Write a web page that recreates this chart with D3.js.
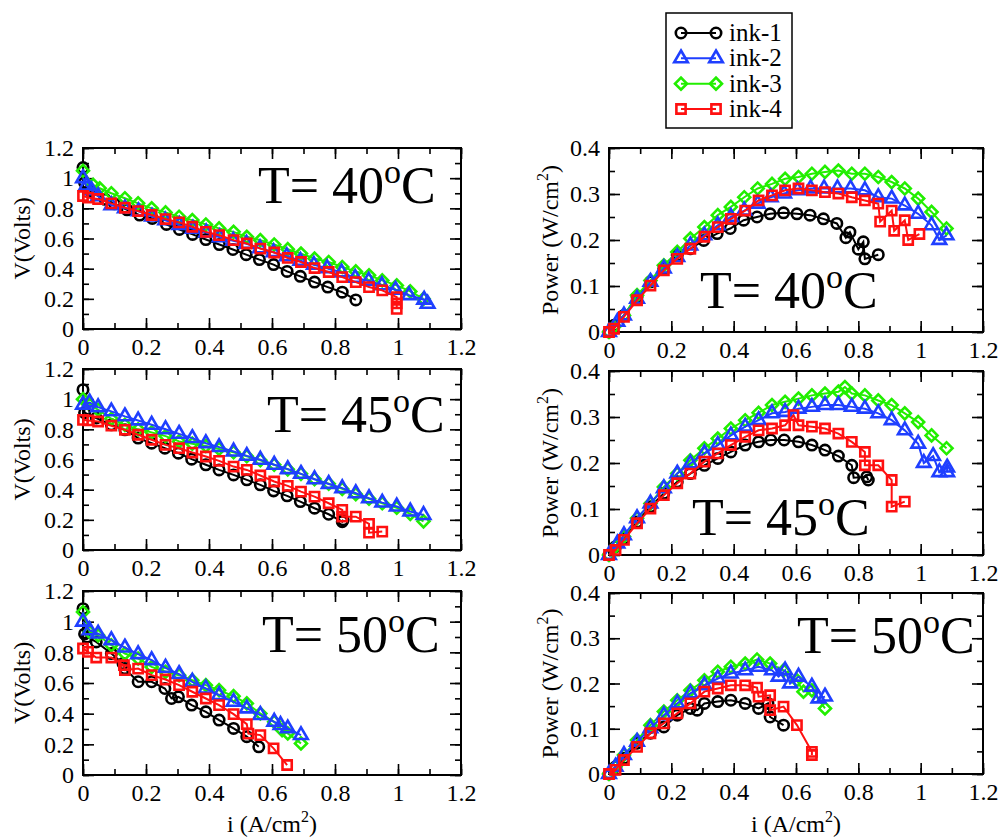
<!DOCTYPE html>
<html>
<head>
<meta charset="utf-8">
<script src="https://cdn.jsdelivr.net/npm/d3@7"></script>
<style>
  body { margin: 0; background: #fff; }
  svg, svg text { font-family: "Liberation Serif", "DejaVu Serif", serif; }
</style>
</head>
<body>
<svg id="chart"></svg>
<script>
// ---- data ----
var inks = ["ink-1", "ink-2", "ink-3", "ink-4"];
var inkColors = ["#000000", "#1f3fff", "#22ee00", "#ff1010"];
var temps = [40, 45, 50];
var xTicks = [0, 0.2, 0.4, 0.6, 0.8, 1, 1.2];
var vTicks = [0, 0.2, 0.4, 0.6, 0.8, 1, 1.2];
var pTicks = [0, 0.1, 0.2, 0.3, 0.4];

// polarisation curves, T = 40
var iV40_1 = [0, 0.005, 0.02, 0.04, 0.07, 0.1, 0.14, 0.18, 0.22, 0.265, 0.306, 0.348, 0.39, 0.433, 0.476, 0.518, 0.56, 0.605, 0.648, 0.69, 0.735, 0.777, 0.823, 0.866];
var v40_1 = [1.07, 0.97, 0.92, 0.89, 0.86, 0.83, 0.79, 0.755, 0.733, 0.693, 0.66, 0.627, 0.593, 0.56, 0.527, 0.493, 0.46, 0.427, 0.382, 0.349, 0.311, 0.278, 0.244, 0.193];
var iV40_2 = [0, 0.01, 0.027, 0.048, 0.09, 0.133, 0.176, 0.219, 0.261, 0.306, 0.349, 0.391, 0.434, 0.477, 0.519, 0.562, 0.605, 0.647, 0.69, 0.733, 0.775, 0.821, 0.864, 0.907, 0.949, 0.992, 1.035, 1.083, 1.094];
var v40_2 = [1.0, 0.95, 0.92, 0.88, 0.82, 0.8, 0.78, 0.745, 0.72, 0.69, 0.665, 0.64, 0.608, 0.585, 0.565, 0.535, 0.509, 0.482, 0.452, 0.425, 0.403, 0.375, 0.339, 0.32, 0.29, 0.26, 0.224, 0.194, 0.167];
var iV40_3 = [0, 0.032, 0.053, 0.09, 0.133, 0.175, 0.218, 0.262, 0.305, 0.347, 0.39, 0.432, 0.478, 0.52, 0.563, 0.607, 0.65, 0.692, 0.735, 0.78, 0.823, 0.866, 0.908, 0.95, 0.996, 1.039, 1.081];
var v40_3 = [1.049, 0.956, 0.933, 0.9, 0.867, 0.833, 0.8, 0.773, 0.744, 0.722, 0.693, 0.667, 0.644, 0.611, 0.589, 0.56, 0.529, 0.5, 0.467, 0.444, 0.411, 0.382, 0.356, 0.322, 0.289, 0.249, 0.2];
var iV40_4 = [0, 0.016, 0.048, 0.09, 0.133, 0.175, 0.218, 0.262, 0.305, 0.347, 0.39, 0.432, 0.478, 0.52, 0.563, 0.607, 0.65, 0.692, 0.735, 0.78, 0.823, 0.866, 0.908, 0.95, 0.996, 0.996, 0.996];
var v40_4 = [0.882, 0.871, 0.862, 0.833, 0.804, 0.782, 0.756, 0.729, 0.707, 0.678, 0.644, 0.622, 0.589, 0.567, 0.533, 0.507, 0.471, 0.444, 0.404, 0.378, 0.344, 0.311, 0.278, 0.256, 0.211, 0.17, 0.133];

// power curves, T = 40
var iP40_1 = [0, 0.016, 0.048, 0.09, 0.133, 0.176, 0.219, 0.261, 0.304, 0.347, 0.389, 0.432, 0.475, 0.517, 0.56, 0.603, 0.645, 0.688, 0.731, 0.76, 0.773, 0.8, 0.816, 0.821, 0.864];
var p40_1 = [0, 0.0145, 0.036, 0.076, 0.109, 0.138, 0.167, 0.181, 0.199, 0.214, 0.225, 0.243, 0.25, 0.257, 0.259, 0.257, 0.254, 0.246, 0.236, 0.205, 0.217, 0.18, 0.196, 0.159, 0.168];
var iP40_2 = [0, 0.027, 0.048, 0.09, 0.133, 0.176, 0.219, 0.261, 0.306, 0.349, 0.391, 0.434, 0.477, 0.519, 0.562, 0.605, 0.647, 0.69, 0.733, 0.775, 0.821, 0.864, 0.907, 0.949, 0.992, 1.035, 1.06, 1.083];
var p40_2 = [0, 0.022, 0.036, 0.072, 0.109, 0.138, 0.163, 0.188, 0.21, 0.232, 0.25, 0.264, 0.279, 0.293, 0.301, 0.308, 0.312, 0.312, 0.312, 0.312, 0.308, 0.293, 0.29, 0.275, 0.257, 0.232, 0.2, 0.21];
var iP40_3 = [0, 0.016, 0.048, 0.09, 0.133, 0.176, 0.219, 0.261, 0.306, 0.349, 0.391, 0.434, 0.477, 0.523, 0.565, 0.608, 0.651, 0.693, 0.736, 0.779, 0.821, 0.864, 0.907, 0.949, 0.992, 1.035, 1.083];
var p40_3 = [0, 0.011, 0.036, 0.08, 0.112, 0.145, 0.174, 0.203, 0.228, 0.254, 0.272, 0.293, 0.312, 0.322, 0.333, 0.337, 0.344, 0.348, 0.351, 0.344, 0.344, 0.337, 0.326, 0.312, 0.29, 0.261, 0.225];
var iP40_4 = [0, 0.016, 0.048, 0.09, 0.133, 0.176, 0.219, 0.261, 0.306, 0.349, 0.391, 0.437, 0.48, 0.523, 0.565, 0.608, 0.651, 0.693, 0.736, 0.779, 0.821, 0.864, 0.87, 0.907, 0.915, 0.949, 0.96, 0.996];
var p40_4 = [0, 0.007, 0.033, 0.069, 0.101, 0.134, 0.159, 0.181, 0.207, 0.228, 0.246, 0.264, 0.286, 0.297, 0.308, 0.312, 0.308, 0.304, 0.301, 0.293, 0.286, 0.279, 0.24, 0.264, 0.22, 0.243, 0.2, 0.213];

// polarisation curves, T = 45
var iV45_1 = [0, 0.005, 0.042, 0.09, 0.133, 0.175, 0.218, 0.26, 0.303, 0.345, 0.39, 0.432, 0.478, 0.52, 0.563, 0.605, 0.648, 0.69, 0.735, 0.78, 0.823, 0.826];
var v45_1 = [1.063, 0.91, 0.875, 0.83, 0.797, 0.742, 0.708, 0.675, 0.642, 0.602, 0.565, 0.531, 0.498, 0.465, 0.432, 0.392, 0.359, 0.321, 0.277, 0.237, 0.188, 0.2];
var iV45_2 = [0, 0.021, 0.048, 0.09, 0.133, 0.175, 0.218, 0.262, 0.305, 0.347, 0.39, 0.432, 0.478, 0.52, 0.563, 0.607, 0.65, 0.692, 0.735, 0.78, 0.823, 0.866, 0.908, 0.95, 0.996, 1.039, 1.081];
var v45_2 = [0.963, 0.978, 0.947, 0.919, 0.886, 0.859, 0.83, 0.801, 0.77, 0.742, 0.708, 0.682, 0.653, 0.624, 0.598, 0.565, 0.536, 0.505, 0.469, 0.438, 0.41, 0.376, 0.343, 0.314, 0.288, 0.255, 0.232];
var iV45_3 = [0, 0.016, 0.048, 0.09, 0.133, 0.175, 0.218, 0.262, 0.305, 0.347, 0.39, 0.432, 0.478, 0.52, 0.563, 0.607, 0.65, 0.692, 0.735, 0.78, 0.823, 0.866, 0.908, 0.95, 0.996, 1.039, 1.081];
var v45_3 = [1.0, 0.975, 0.93, 0.87, 0.83, 0.8, 0.78, 0.755, 0.72, 0.705, 0.69, 0.67, 0.648, 0.622, 0.595, 0.565, 0.535, 0.505, 0.47, 0.44, 0.405, 0.37, 0.34, 0.31, 0.28, 0.24, 0.19];
var iV45_4 = [0, 0.016, 0.048, 0.09, 0.133, 0.175, 0.218, 0.262, 0.305, 0.347, 0.39, 0.432, 0.478, 0.52, 0.563, 0.607, 0.65, 0.692, 0.735, 0.78, 0.823, 0.823, 0.866, 0.908, 0.908, 0.95];
var v45_4 = [0.863, 0.859, 0.852, 0.824, 0.797, 0.764, 0.731, 0.697, 0.675, 0.646, 0.62, 0.591, 0.553, 0.531, 0.494, 0.454, 0.425, 0.387, 0.354, 0.31, 0.266, 0.221, 0.221, 0.173, 0.115, 0.122];

// power curves, T = 45
var iP45_1 = [0, 0.021, 0.048, 0.09, 0.133, 0.176, 0.219, 0.261, 0.306, 0.349, 0.391, 0.437, 0.48, 0.519, 0.562, 0.608, 0.651, 0.693, 0.736, 0.779, 0.785, 0.827, 0.832];
var p45_1 = [0, 0.018, 0.036, 0.072, 0.105, 0.134, 0.159, 0.177, 0.195, 0.21, 0.224, 0.239, 0.246, 0.25, 0.25, 0.246, 0.239, 0.228, 0.215, 0.195, 0.168, 0.17, 0.163];
var iP45_2 = [0, 0.027, 0.048, 0.09, 0.133, 0.176, 0.219, 0.261, 0.306, 0.349, 0.391, 0.437, 0.48, 0.523, 0.565, 0.608, 0.651, 0.693, 0.736, 0.779, 0.821, 0.864, 0.907, 0.949, 0.992, 1.01, 1.04, 1.06, 1.085, 1.085];
var p45_2 = [0, 0.025, 0.043, 0.08, 0.112, 0.145, 0.177, 0.199, 0.221, 0.239, 0.26, 0.279, 0.293, 0.308, 0.311, 0.318, 0.322, 0.326, 0.326, 0.322, 0.318, 0.308, 0.293, 0.271, 0.242, 0.2, 0.215, 0.18, 0.19, 0.18];
var iP45_3 = [0, 0.021, 0.048, 0.09, 0.133, 0.176, 0.219, 0.261, 0.306, 0.349, 0.391, 0.437, 0.48, 0.523, 0.565, 0.608, 0.651, 0.693, 0.736, 0.757, 0.779, 0.821, 0.864, 0.907, 0.949, 0.992, 1.035, 1.083];
var p45_3 = [0, 0.018, 0.04, 0.08, 0.112, 0.148, 0.177, 0.206, 0.232, 0.253, 0.275, 0.293, 0.309, 0.326, 0.333, 0.34, 0.347, 0.351, 0.355, 0.365, 0.351, 0.347, 0.336, 0.326, 0.308, 0.289, 0.26, 0.232];
var iP45_4 = [0, 0.021, 0.048, 0.09, 0.133, 0.176, 0.219, 0.261, 0.306, 0.349, 0.391, 0.437, 0.48, 0.523, 0.565, 0.592, 0.608, 0.651, 0.693, 0.736, 0.779, 0.821, 0.821, 0.864, 0.907, 0.907, 0.949];
var p45_4 = [0, 0.011, 0.033, 0.069, 0.101, 0.13, 0.156, 0.177, 0.203, 0.221, 0.239, 0.257, 0.271, 0.275, 0.282, 0.304, 0.282, 0.279, 0.275, 0.264, 0.246, 0.224, 0.195, 0.195, 0.163, 0.105, 0.116];

// polarisation curves, T = 50
var iV50_1 = [0, 0.005, 0.013, 0.042, 0.09, 0.127, 0.133, 0.175, 0.218, 0.26, 0.281, 0.303, 0.345, 0.39, 0.432, 0.478, 0.52, 0.558];
var v50_1 = [1.085, 0.92, 0.9, 0.868, 0.792, 0.727, 0.694, 0.608, 0.608, 0.564, 0.499, 0.51, 0.456, 0.412, 0.358, 0.304, 0.25, 0.184];
var iV50_2 = [0, 0.021, 0.048, 0.09, 0.133, 0.175, 0.218, 0.262, 0.305, 0.347, 0.39, 0.432, 0.478, 0.52, 0.563, 0.607, 0.627, 0.65, 0.692];
var v50_2 = [1.0, 0.944, 0.922, 0.879, 0.831, 0.788, 0.749, 0.699, 0.658, 0.608, 0.564, 0.521, 0.477, 0.434, 0.391, 0.347, 0.326, 0.304, 0.26];
var iV50_3 = [0, 0.021, 0.048, 0.09, 0.133, 0.175, 0.218, 0.262, 0.305, 0.347, 0.39, 0.432, 0.478, 0.52, 0.563, 0.607, 0.632, 0.65, 0.692];
var v50_3 = [1.063, 0.933, 0.911, 0.846, 0.792, 0.76, 0.705, 0.673, 0.651, 0.618, 0.586, 0.553, 0.514, 0.467, 0.401, 0.347, 0.293, 0.271, 0.206];
var iV50_4 = [0, 0.016, 0.042, 0.09, 0.13, 0.133, 0.175, 0.218, 0.262, 0.305, 0.347, 0.39, 0.432, 0.478, 0.52, 0.525, 0.563, 0.605, 0.648];
var v50_4 = [0.825, 0.803, 0.766, 0.766, 0.716, 0.684, 0.694, 0.651, 0.623, 0.586, 0.543, 0.499, 0.456, 0.397, 0.332, 0.27, 0.26, 0.174, 0.065];

// power curves, T = 50
var iP50_1 = [0, 0.021, 0.048, 0.09, 0.133, 0.176, 0.219, 0.261, 0.283, 0.306, 0.349, 0.391, 0.437, 0.48, 0.51, 0.517, 0.56];
var p50_1 = [0, 0.016, 0.035, 0.068, 0.09, 0.104, 0.13, 0.145, 0.141, 0.156, 0.16, 0.163, 0.156, 0.145, 0.156, 0.126, 0.108];
var iP50_2 = [0, 0.021, 0.048, 0.09, 0.133, 0.176, 0.219, 0.261, 0.306, 0.349, 0.391, 0.437, 0.48, 0.523, 0.544, 0.565, 0.581, 0.608, 0.651, 0.672, 0.693];
var p50_2 = [0, 0.016, 0.042, 0.071, 0.101, 0.13, 0.156, 0.178, 0.196, 0.211, 0.222, 0.229, 0.237, 0.229, 0.215, 0.229, 0.2, 0.215, 0.193, 0.167, 0.171];
var iP50_3 = [0, 0.021, 0.048, 0.09, 0.133, 0.176, 0.219, 0.261, 0.306, 0.349, 0.391, 0.437, 0.475, 0.517, 0.56, 0.603, 0.624, 0.651, 0.693];
var p50_3 = [0, 0.016, 0.042, 0.075, 0.108, 0.138, 0.163, 0.185, 0.207, 0.226, 0.237, 0.244, 0.253, 0.244, 0.229, 0.207, 0.182, 0.185, 0.145];
var iP50_4 = [0, 0.021, 0.048, 0.09, 0.133, 0.176, 0.219, 0.261, 0.306, 0.349, 0.391, 0.437, 0.475, 0.48, 0.517, 0.517, 0.56, 0.603, 0.651, 0.651];
var p50_4 = [0, 0.009, 0.031, 0.06, 0.09, 0.112, 0.134, 0.156, 0.182, 0.189, 0.196, 0.196, 0.191, 0.171, 0.174, 0.141, 0.149, 0.108, 0.049, 0.042];

// ---- layout ----
var width = 999, height = 840;
var serif = "'Liberation Serif', 'DejaVu Serif', serif";

var svg = d3.select("#chart")
  .attr("width", width)
  .attr("height", height)
  .style("font-family", serif);

function pairs(xs, ys) { return xs.map(function (x, k) { return [x, ys[k]]; }); }

// drawing order: ink-1, ink-3, ink-2, ink-4
var order = [0, 2, 1, 3];

var panels = [
  { kind: "V", box: [83, 148, 461, 329], label: [258, 203], sets: [pairs(iV40_1, v40_1), pairs(iV40_2, v40_2), pairs(iV40_3, v40_3), pairs(iV40_4, v40_4)] },
  { kind: "P", box: [609, 148, 983, 332], label: [700, 308], sets: [pairs(iP40_1, p40_1), pairs(iP40_2, p40_2), pairs(iP40_3, p40_3), pairs(iP40_4, p40_4)] },
  { kind: "V", box: [83, 369, 461, 550], label: [267, 432], sets: [pairs(iV45_1, v45_1), pairs(iV45_2, v45_2), pairs(iV45_3, v45_3), pairs(iV45_4, v45_4)] },
  { kind: "P", box: [609, 371, 983, 555], label: [692, 535], sets: [pairs(iP45_1, p45_1), pairs(iP45_2, p45_2), pairs(iP45_3, p45_3), pairs(iP45_4, p45_4)] },
  { kind: "V", box: [83, 591, 461, 775], label: [262, 652], sets: [pairs(iV50_1, v50_1), pairs(iV50_2, v50_2), pairs(iV50_3, v50_3), pairs(iV50_4, v50_4)] },
  { kind: "P", box: [609, 593, 983, 774], label: [797, 653], sets: [pairs(iP50_1, p50_1), pairs(iP50_2, p50_2), pairs(iP50_3, p50_3), pairs(iP50_4, p50_4)] }
];

var fmt = function (d) { return String(+d.toFixed(2)); };

// marker shapes
var symbols = [
  d3.symbol().type(d3.symbolCircle).size(85),
  d3.symbol().type(d3.symbolTriangle).size(80),
  d3.symbol().type(d3.symbolSquare).size(72),
  d3.symbol().type(d3.symbolSquare).size(85)
];
var rotations = [0, 0, 45, 0];

function drawMarker(g, k, px, py) {
  g.append("path")
    .attr("d", symbols[k]())
    .attr("transform", "translate(" + px + "," + py + ") rotate(" + rotations[k] + ")")
    .attr("fill", "none")
    .attr("stroke", inkColors[k])
    .attr("stroke-width", 2.6);
}

function styleAxis(g) {
  g.select(".domain").remove();
  g.attr("font-family", null).attr("font-size", null);
  g.selectAll("line").attr("stroke", "#000").attr("stroke-width", 1.6);
  g.selectAll("text").style("font-family", serif).style("font-size", "24px").attr("fill", "#000");
}

panels.forEach(function (p, pi) {
  var x0 = p.box[0], y0 = p.box[1], x1 = p.box[2], y1 = p.box[3];
  var ticks = p.kind === "V" ? vTicks : pTicks;
  var yMax = ticks[ticks.length - 1];

  var x = d3.scaleLinear().domain([0, 1.2]).range([x0, x1]);
  var y = d3.scaleLinear().domain([0, yMax]).range([y1, y0]);

  var xMinor = d3.range(13).map(function (k) { return k * 0.1; });
  var yStep = ticks[1] / 2;
  var yMinor = d3.range(Math.round(yMax / yStep) + 1).map(function (k) { return k * yStep; });

  var g = svg.append("g");

  // minor ticks
  g.append("g").attr("transform", "translate(0," + y1 + ")")
    .call(d3.axisBottom(x).tickValues(xMinor).tickSize(-6).tickFormat("")).call(styleAxis);
  g.append("g").attr("transform", "translate(0," + y0 + ")")
    .call(d3.axisTop(x).tickValues(xMinor).tickSize(-6).tickFormat("")).call(styleAxis);
  g.append("g").attr("transform", "translate(" + x0 + ",0)")
    .call(d3.axisLeft(y).tickValues(yMinor).tickSize(-6).tickFormat("")).call(styleAxis);
  g.append("g").attr("transform", "translate(" + x1 + ",0)")
    .call(d3.axisRight(y).tickValues(yMinor).tickSize(-6).tickFormat("")).call(styleAxis);

  // major ticks + labels
  g.append("g").attr("transform", "translate(0," + y1 + ")")
    .call(d3.axisBottom(x).tickValues(xTicks).tickSize(-11).tickPadding(9).tickFormat(fmt)).call(styleAxis);
  g.append("g").attr("transform", "translate(0," + y0 + ")")
    .call(d3.axisTop(x).tickValues(xTicks).tickSize(-11).tickFormat("")).call(styleAxis);
  g.append("g").attr("transform", "translate(" + x0 + ",0)")
    .call(d3.axisLeft(y).tickValues(ticks).tickSize(-11).tickPadding(9).tickFormat(fmt)).call(styleAxis);
  g.append("g").attr("transform", "translate(" + x1 + ",0)")
    .call(d3.axisRight(y).tickValues(ticks).tickSize(-11).tickFormat("")).call(styleAxis);

  g.append("rect")
    .attr("x", x0).attr("y", y0)
    .attr("width", x1 - x0).attr("height", y1 - y0)
    .attr("fill", "none").attr("stroke", "#000").attr("stroke-width", 2);

  // temperature label
  var t = g.append("text")
    .attr("x", p.label[0]).attr("y", p.label[1])
    .attr("font-size", 52).attr("fill", "#000");
  t.append("tspan").text("T= " + temps[Math.floor(pi / 2)]);
  t.append("tspan").attr("font-size", 34).attr("dy", -20).text("o");
  t.append("tspan").attr("dy", 20).text("C");

  // series
  var line = d3.line().x(function (d) { return x(d[0]); }).y(function (d) { return y(d[1]); });
  order.forEach(function (k) {
    var data = p.sets[k];
    g.append("path")
      .attr("d", line(data))
      .attr("fill", "none")
      .attr("stroke", inkColors[k])
      .attr("stroke-width", 2);
    data.forEach(function (d) { drawMarker(g, k, x(d[0]), y(d[1])); });
  });

  // y title
  var cy = (y0 + y1) / 2;
  if (p.kind === "V") {
    g.append("text")
      .attr("transform", "translate(30," + cy + ") rotate(-90)")
      .attr("text-anchor", "middle").attr("font-size", 24)
      .text("V(Volts)");
  } else {
    var yt = g.append("text")
      .attr("transform", "translate(558," + cy + ") rotate(-90)")
      .attr("text-anchor", "middle").attr("font-size", 24);
    yt.append("tspan").text("Power (W/cm");
    yt.append("tspan").attr("font-size", 16).attr("dy", -10).text("2");
    yt.append("tspan").attr("dy", 10).text(")");
  }

  // x title only under bottom panels
  if (pi >= 4) {
    var xt = g.append("text")
      .attr("x", (x0 + x1) / 2).attr("y", 832)
      .attr("text-anchor", "middle").attr("font-size", 24);
    xt.append("tspan").text("i (A/cm");
    xt.append("tspan").attr("font-size", 16).attr("dy", -10).text("2");
    xt.append("tspan").attr("dy", 10).text(")");
  }
});

// ---- legend ----
var legend = svg.append("g");
legend.append("rect")
  .attr("x", 666).attr("y", 13).attr("width", 126).attr("height", 115)
  .attr("fill", "#fff").attr("stroke", "#000").attr("stroke-width", 1.5);
var rowY = d3.scalePoint().domain(inks).range([33, 109]);
inks.forEach(function (name, k) {
  var ry = rowY(name);
  legend.append("line")
    .attr("x1", 681).attr("x2", 716).attr("y1", ry).attr("y2", ry)
    .attr("stroke", inkColors[k]).attr("stroke-width", 2);
  drawMarker(legend, k, 681, ry);
  drawMarker(legend, k, 716, ry);
  legend.append("text")
    .attr("x", 729).attr("y", ry + 8)
    .attr("font-size", 25).attr("fill", "#000")
    .text(name);
});
</script>
</body>
</html>
